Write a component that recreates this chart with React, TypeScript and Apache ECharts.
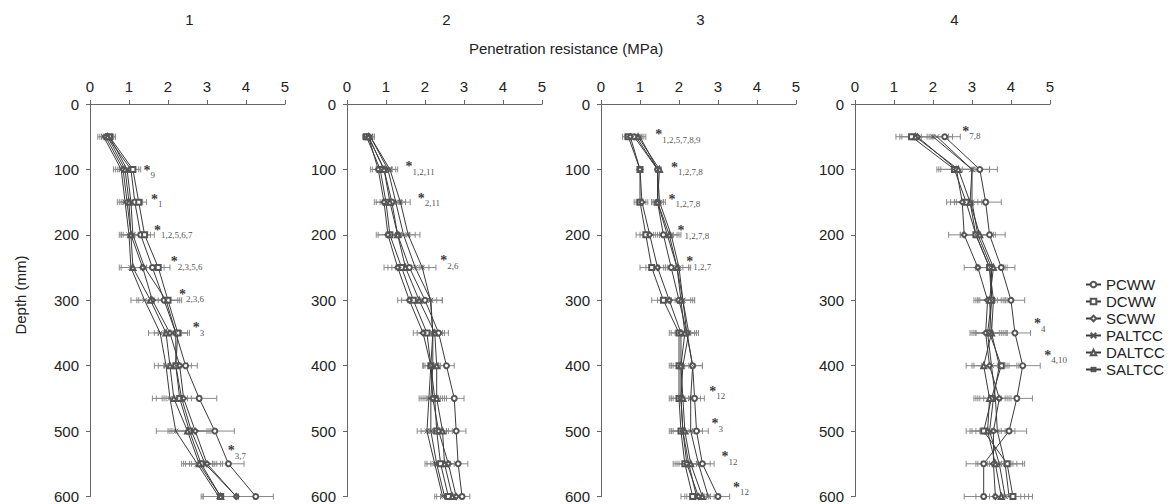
import React, { useEffect, useRef } from "react";
import * as echarts from "echarts";

const depths = [50, 100, 150, 200, 250, 300, 350, 400, 450, 500, 550, 600];
const seriesNames = ["PCWW", "DCWW", "SCWW", "PALTCC", "DALTCC", "SALTCC"];
const panelTitles = ["1", "2", "3", "4"];
const xAxisTitle = "Penetration resistance (MPa)";
const yAxisTitle = "Depth (mm)";

// values per series (order = seriesNames), per depth
const panel1Values = [
  [0.45, 1.05, 1.15, 1.3, 1.6, 1.9, 2.2, 2.45, 2.8, 3.2, 3.55, 4.25],
  [0.5, 1.1, 1.25, 1.4, 1.75, 2.0, 2.25, 2.2, 2.3, 2.55, 2.85, 3.35],
  [0.4, 0.85, 0.95, 1.05, 1.35, 1.6, 2.05, 2.3, 2.4, 2.7, 3.0, 3.75],
  [0.35, 0.8, 0.9, 1.0, 1.05, 1.4, 1.8, 1.95, 2.05, 2.2, 2.75, 3.3],
  [0.45, 0.9, 1.0, 1.05, 1.1, 1.55, 1.95, 2.05, 2.15, 2.5, 2.8, 3.35],
  [0.5, 0.95, 1.05, 1.1, 1.4, 1.95, 2.2, 2.2, 2.35, 2.6, 2.95, 3.75],
];
const panel2Values = [
  [0.55, 0.95, 1.15, 1.3, 1.6, 2.0, 2.35, 2.55, 2.75, 2.8, 2.85, 2.95],
  [0.5, 0.85, 1.0, 1.1, 1.4, 1.7, 2.05, 2.15, 2.25, 2.3, 2.4, 2.6],
  [0.55, 0.8, 0.95, 1.05, 1.3, 1.6, 1.95, 2.15, 2.2, 2.35, 2.6, 2.8],
  [0.6, 1.05, 1.25, 1.45, 1.75, 2.15, 2.2, 2.15, 2.1, 2.05, 2.25, 2.45],
  [0.55, 0.95, 1.1, 1.3, 1.5, 1.85, 2.25, 2.3, 2.3, 2.45, 2.5, 2.7],
  [0.6, 1.1, 1.37, 1.57, 1.93, 2.14, 2.2, 2.2, 2.15, 2.15, 2.3, 2.5],
];
const panel3Values = [
  [0.85, 1.45, 1.45, 1.6, 1.8, 2.0, 2.2, 2.35, 2.4, 2.45, 2.6, 3.0],
  [0.7, 1.0, 1.0, 1.15, 1.3, 1.6, 2.0, 2.0, 2.0, 2.05, 2.15, 2.35],
  [0.75, 1.0, 1.05, 1.25, 1.45, 1.75, 2.05, 2.05, 2.05, 2.1, 2.2, 2.5],
  [0.9, 1.45, 1.45, 1.7, 1.95, 2.1, 2.2, 2.35, 2.3, 2.3, 2.5, 2.75],
  [0.95, 1.5, 1.45, 1.75, 1.95, 2.05, 2.15, 2.05, 2.1, 2.15, 2.3, 2.6],
  [1.0, 1.45, 1.5, 1.8, 2.0, 2.1, 2.25, 2.1, 2.05, 2.1, 2.25, 2.45],
];
const panel4Values = [
  [2.3, 3.2, 3.35, 3.45, 3.75, 4.0, 4.1, 4.3, 4.15, 3.95, 3.3, 3.3],
  [1.45, 2.55, 2.85, 3.1, 3.45, 3.5, 3.45, 3.75, 3.5, 3.3, 3.9, 4.05],
  [1.6, 2.6, 2.75, 2.8, 3.15, 3.4, 3.35, 3.45, 3.7, 3.55, 3.55, 3.6],
  [2.1, 3.0, 3.0, 3.15, 3.5, 3.5, 3.4, 3.5, 3.6, 3.65, 3.85, 3.95],
  [1.55, 2.65, 2.95, 3.2, 3.55, 3.45, 3.5, 3.3, 3.45, 3.4, 3.6, 3.75],
  [2.0, 3.0, 2.95, 3.1, 3.45, 3.55, 3.5, 3.7, 3.55, 3.45, 3.7, 3.85],
];

// half-width of error bars per depth
const panel1Err = [0.15, 0.2, 0.2, 0.25, 0.3, 0.35, 0.3, 0.3, 0.45, 0.5, 0.4, 0.45];
const panel2Err = [0.1, 0.2, 0.25, 0.3, 0.35, 0.3, 0.25, 0.2, 0.25, 0.25, 0.25, 0.2];
const panel3Err = [0.15, 0.05, 0.15, 0.25, 0.3, 0.3, 0.25, 0.25, 0.25, 0.3, 0.3, 0.3];
const panel4Err = [0.4, 0.45, 0.4, 0.4, 0.35, 0.35, 0.4, 0.45, 0.4, 0.45, 0.45, 0.5];

// significance notes: [x, depth, subscript]
const panel1Notes: [number, number, string][] = [
  [1.36, 104, "9"],
  [1.55, 149, "1"],
  [1.63, 196, "1,2,5,6,7"],
  [2.06, 244, "2,3,5,6"],
  [2.27, 294, "2,3,6"],
  [2.62, 345, "3"],
  [3.52, 533, "3,7"],
];
const panel2Notes: [number, number, string][] = [
  [1.49, 99, "1,2,11"],
  [1.8, 147, "2,11"],
  [2.38, 243, "2,6"],
];
const panel3Notes: [number, number, string][] = [
  [1.38, 50, "1,2,5,7,8,9"],
  [1.78, 100, "1,2,7,8"],
  [1.72, 149, "1,2,7,8"],
  [1.95, 197, "1,2,7,8"],
  [2.17, 244, "1,2,7"],
  [2.76, 442, "12"],
  [2.82, 492, "3"],
  [3.08, 542, "12"],
  [3.37, 589, "12"],
];
const panel4Notes: [number, number, string][] = [
  [2.74, 45, "7,8"],
  [4.58, 339, "4"],
  [4.84, 387, "4,10"],
];

const panels = [
  { values: panel1Values, err: panel1Err, notes: panel1Notes },
  { values: panel2Values, err: panel2Err, notes: panel2Notes },
  { values: panel3Values, err: panel3Err, notes: panel3Notes },
  { values: panel4Values, err: panel4Err, notes: panel4Notes },
];

const SANS = "'Liberation Sans', Arial, sans-serif";
const SERIF = "'Liberation Serif', 'Times New Roman', serif";
const gridLefts = [90, 347, 601, 855];
const gridWidth = 195;
const gridTop = 104;
const gridHeight = 394;

const symbols = [
  "emptyCircle",
  "emptyRect",
  "emptyDiamond",
  "path://M0,0L10,10M10,0L0,10",
  "emptyTriangle",
  "path://M0,0L10,10M10,0L0,10M5,-1L5,11",
];

export default function App() {
  const ref = useRef<HTMLDivElement>(null);
  useEffect(() => {
    if (!ref.current) return;
    const chart = echarts.init(ref.current, undefined, { renderer: "svg" });
    const lineColor = "#3a3a3a";
    const grids = gridLefts.map((left) => ({ left, top: gridTop, width: gridWidth, height: gridHeight }));
    const xAxes = gridLefts.map((_, i) => ({
      type: "value",
      gridIndex: i,
      position: "top",
      min: 0,
      max: 5,
      interval: 1,
      axisLine: { show: true, onZero: false, lineStyle: { color: "#666", width: 1 } },
      axisTick: { show: true, length: 4, lineStyle: { color: "#666" } },
      axisLabel: { fontSize: 15, color: "#222", fontFamily: SANS, margin: 10 },
      splitLine: { show: false },
    }));
    const yAxes = gridLefts.map((_, i) => ({
      type: "value",
      gridIndex: i,
      inverse: true,
      min: 0,
      max: 600,
      interval: 100,
      axisLine: { show: true, onZero: false, lineStyle: { color: "#666", width: 1 } },
      axisTick: { show: true, length: 4, lineStyle: { color: "#666" } },
      axisLabel: { fontSize: 15, color: "#222", fontFamily: SANS, margin: 11 },
      splitLine: { show: false },
    }));

    const series: any[] = [];
    panels.forEach((p, pi) => {
      p.values.forEach((vals) => {
        series.push({
          type: "custom",
          name: "err",
          xAxisIndex: pi,
          yAxisIndex: pi,
          silent: true,
          z: 1,
          data: depths.map((d, k) => [vals[k], d, p.err[k]]),
          renderItem: (params: any, api: any) => {
            const x = api.value(0);
            const y = api.value(1);
            const e = api.value(2);
            const lo = api.coord([x - e, y]);
            const hi = api.coord([x + e, y]);
            const h = 3;
            const st = { stroke: "#8a8a8a", lineWidth: 1 };
            return {
              type: "group",
              children: [
                { type: "line", shape: { x1: lo[0], y1: lo[1], x2: hi[0], y2: hi[1] }, style: st },
                { type: "line", shape: { x1: lo[0], y1: lo[1] - h, x2: lo[0], y2: lo[1] + h }, style: st },
                { type: "line", shape: { x1: hi[0], y1: hi[1] - h, x2: hi[0], y2: hi[1] + h }, style: st },
              ],
            };
          },
        });
      });
    });
    panels.forEach((p, pi) => {
      p.values.forEach((vals, si) => {
        series.push({
          type: "line",
          name: seriesNames[si],
          xAxisIndex: pi,
          yAxisIndex: pi,
          z: 3,
          data: depths.map((d, k) => [vals[k], d]),
          symbol: symbols[si],
          symbolSize: 5,
          showAllSymbol: true,
          lineStyle: { color: lineColor, width: 1 },
          itemStyle: { color: "#555", borderColor: "#555", borderWidth: 0.8 },
        });
      });
      series.push({
        type: "scatter",
        name: "notes",
        xAxisIndex: pi,
        yAxisIndex: pi,
        silent: true,
        z: 4,
        symbolSize: 1,
        itemStyle: { color: "rgba(0,0,0,0)" },
        data: p.notes.map((n) => ({ value: [n[0], n[1]], sub: n[2] })),
        label: {
          show: true,
          position: "right",
          distance: 0,
          formatter: (prm: any) => "{a|*}{b|" + prm.data.sub + "}",
          rich: {
            a: { fontSize: 14, fontFamily: SERIF, color: "#000", fontWeight: "bold", padding: [0, 0, 4, 0] },
            b: { fontSize: 9, fontFamily: SERIF, color: "#222", padding: [6, 0, 0, 0] },
          },
        },
      });
    });

    const titleFont = "15px " + SANS;
    const graphic: any[] = panelTitles.map((t, i) => ({
      type: "text",
      x: gridLefts[i] + gridWidth / 2 + 2,
      y: 19,
      style: { text: t, font: titleFont, fill: "#222", textAlign: "center", textVerticalAlign: "middle" },
    }));
    graphic.push({
      type: "text",
      x: 566,
      y: 48,
      style: { text: xAxisTitle, font: titleFont, fill: "#222", textAlign: "center", textVerticalAlign: "middle" },
    });
    graphic.push({
      type: "text",
      x: 20,
      y: 295,
      rotation: Math.PI / 2,
      style: { text: yAxisTitle, font: titleFont, fill: "#222", textAlign: "center", textVerticalAlign: "middle" },
    });

    chart.setOption({
      animation: false,
      backgroundColor: "#fff",
      grid: grids,
      xAxis: xAxes,
      yAxis: yAxes,
      legend: {
        data: seriesNames,
        orient: "vertical",
        left: 1080,
        top: 272,
        itemWidth: 15,
        itemHeight: 7,
        itemGap: 2,
        textStyle: { fontSize: 15, fontFamily: SANS, color: "#222" },
        selectedMode: false,
      },
      graphic,
      series,
    });
    return () => chart.dispose();
  }, []);
  return <div ref={ref} style={{ position: "fixed", left: 0, top: 0, width: 1171, height: 504 }} />;
}
